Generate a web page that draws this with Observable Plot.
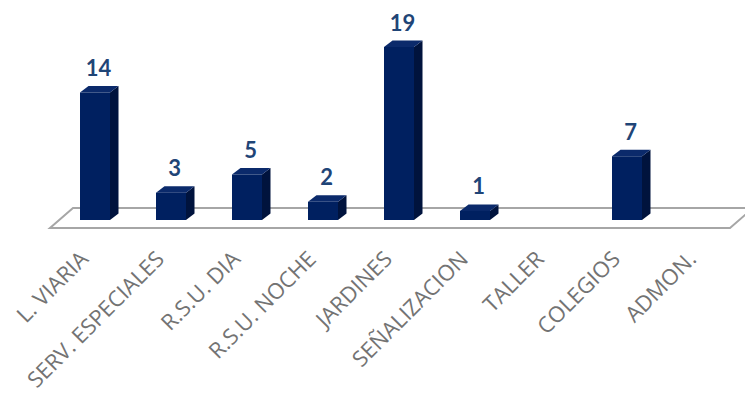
<!DOCTYPE html>
<html><head><meta charset="utf-8">
<script src="https://cdn.jsdelivr.net/npm/d3@7"></script>
<script src="https://cdn.jsdelivr.net/npm/@observablehq/plot@0.6"></script>
<style>body{margin:0;background:#fff}
g[aria-label="x-axis tick label"] text{font-family:"Open Sans",sans-serif}</style>
</head><body><div id="chart"></div>
<script>
const categories = ["L. VIARIA","SERV. ESPECIALES","R.S.U. DIA","R.S.U. NOCHE","JARDINES","SEÑALIZACION","TALLER","COLEGIOS","ADMON."];
const values = [14, 3, 5, 2, 19, 1, 0, 7, 0];
const data = categories.map((c, i) => ({category: c, value: values[i]}));

const DX = 8.5, DY = -6.5;
const NS = "http://www.w3.org/2000/svg";
function poly(g, pts, fill) {
  const p = document.createElementNS(NS, "polygon");
  p.setAttribute("points", pts.map(d => d.join(",")).join(" "));
  p.setAttribute("fill", fill);
  g.appendChild(p);
  return p;
}
function bw(s) { return typeof s.bandwidth === "function" ? s.bandwidth() : s.bandwidth; }

const floor = Plot.ruleY([0], {
  render(index, scales, values, dims) {
    const g = document.createElementNS(NS, "g");
    const x0 = dims.marginLeft, x1 = dims.width - dims.marginRight;
    const y0 = scales.y(0);
    const p = poly(g, [[x0 - 7, y0 + 8], [x1 - 11, y0 + 8], [x1 + 12, y0 - 12], [x0 + 16, y0 - 12]], "#ffffff");
    p.setAttribute("stroke", "#a6a6a6");
    p.setAttribute("stroke-width", "2");
    return g;
  }
});

const bars = Plot.barY(data.filter(d => d.value > 0), {
  x: "category", y: "value", fill: "#002060",
  render(index, scales, vals, dims) {
    const g = document.createElementNS(NS, "g");
    const w = bw(scales.x);
    const rows = data.filter(d => d.value > 0);
    for (const i of index) {
      const d = rows[i];
      const xa = scales.x(d.category), xb = xa + w;
      const yt = scales.y(d.value), yb = scales.y(0);
      poly(g, [[xb, yt], [xb + DX, yt + DY], [xb + DX, yb + DY], [xb, yb]], "#00133d");
      poly(g, [[xa, yt], [xa + DX, yt + DY], [xb + DX, yt + DY], [xb, yt]], "#0b2a6b");
      poly(g, [[xa, yt], [xb, yt], [xb, yb], [xa, yb]], "#002060");
    }
    return g;
  }
});

const chart = Plot.plot({
  width: 745, height: 399,
  marginLeft: 57, marginRight: 4, marginTop: 38, marginBottom: 179,
  style: {fontFamily: "'Open Sans'", color: "#737373", background: "#fff"},
  x: {domain: categories, paddingInner: 0.6, paddingOuter: 0.3, label: null},
  y: {domain: [0, 20], axis: null},
  marks: [
    floor,
    bars,
    Plot.text(data.filter(d => d.value > 0), {
      x: "category", y: "value", text: d => String(d.value),
      dy: -24, dx: 3, fontSize: 22, fontWeight: "bold", fill: "#1F4577", fontFamily: "Lato"
    }),
    Plot.axisX({tickSize: 0, tickPadding: 35, tickRotate: -45, fontSize: 22, dx: -11})
  ]
});
document.getElementById("chart").appendChild(chart);
</script>
</body></html>
